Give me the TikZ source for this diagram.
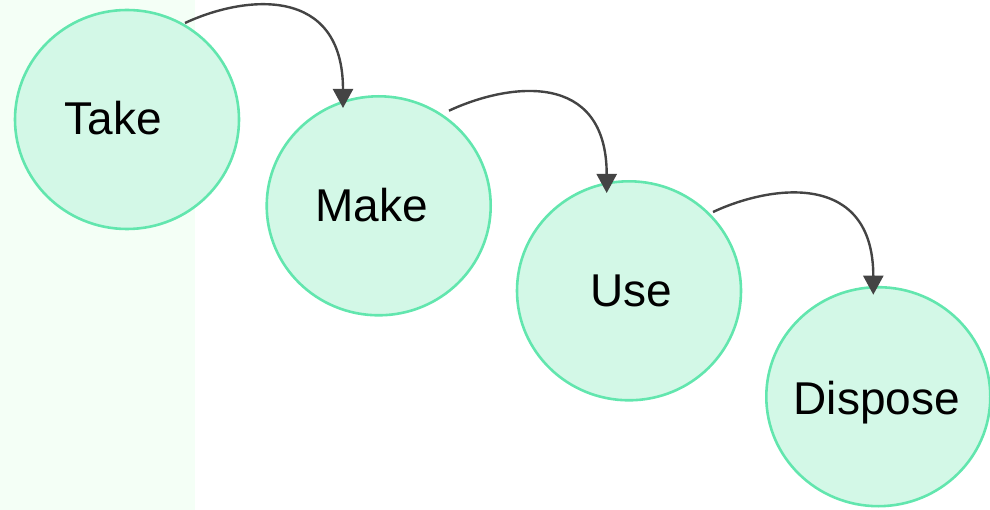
\documentclass[tikz,border=0pt]{standalone}
\usepackage{fontspec}
\setmainfont{Liberation Sans}
\usetikzlibrary{shapes.geometric,arrows.meta}
\definecolor{panel}{HTML}{F4FFF6}
\definecolor{stagefill}{HTML}{D3F8E7}
\definecolor{stageline}{HTML}{62E6AE}
\definecolor{flow}{HTML}{444444}
\tikzset{
  stage/.style={ellipse, draw=stageline, fill=stagefill, line width=2.6pt,
    inner sep=0pt, minimum width=224pt, minimum height=219pt},
  stagetext/.style={font=\fontsize{46}{46}\selectfont, text=black, inner sep=0pt, anchor=base},
  flowarrow/.style={draw=flow, line width=2.4pt,
    -{Triangle[width=20pt,length=19pt]}}
}
\begin{document}
\begin{tikzpicture}[x=1pt,y=-1pt]
  \useasboundingbox (0,0) rectangle (990,510);
  \fill[panel] (0,0) rectangle (195,510);

  % the four stages
  \node[stage] (take) at (127,119.5) {};
  \node[stage] (make) at (378.7,205.8) {};
  \node[stage] (use) at (629,290.8) {};
  \node[stage] (dispose) at (878.3,396.7) {};

  \node[stagetext] (takelbl) at ([shift={(-13.5,15.5)}]take.center) {Take};
  \node[stagetext] (makelbl) at ([shift={(-7,16)}]make.center) {Make};
  \node[stagetext] (uselbl) at ([shift={(2.5,16)}]use.center) {Use};
  \node[stagetext] (disposelbl) at ([shift={(-1.5,18)}]dispose.center) {Dispose};

  % connector end points on the circles
  \coordinate (a1) at ([shift={(58,-96.5)}]take.center);
  \coordinate (b1) at ([shift={(-35.7,-97.8)}]make.center);
  \coordinate (a2) at ([shift={(70.3,-95.1)}]make.center);
  \coordinate (b2) at ([shift={(-22.3,-97.8)}]use.center);
  \coordinate (a3) at ([shift={(84,-78.8)}]use.center);
  \coordinate (b3) at ([shift={(-5,-102)}]dispose.center);

  \draw[flowarrow] (a1) .. controls +(60,-28) and +(0,-123) .. (b1);
  \draw[flowarrow] (a2) .. controls +(60,-28) and +(0,-123) .. (b2);
  \draw[flowarrow] (a3) .. controls +(60,-28) and +(0,-123) .. (b3);
\end{tikzpicture}
\end{document}
